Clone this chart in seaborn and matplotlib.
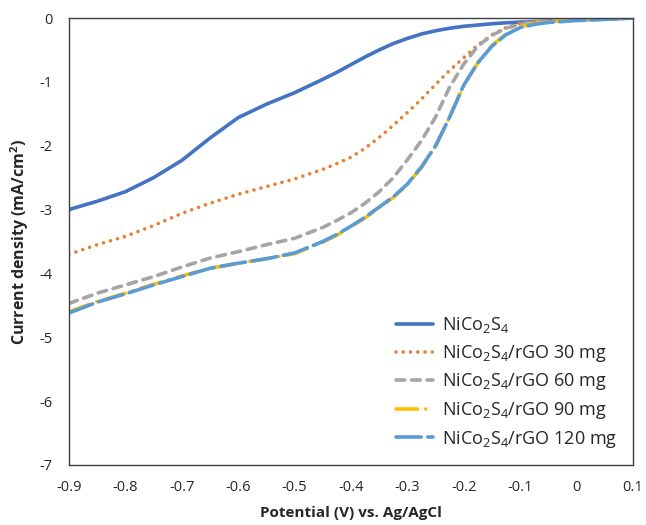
import numpy as np
import pandas as pd
import matplotlib
matplotlib.use("Agg")
import matplotlib.pyplot as plt
import seaborn as sns

potential = [-0.9, -0.85, -0.8, -0.75, -0.7, -0.65, -0.6, -0.55, -0.5,
             -0.45, -0.425, -0.4, -0.375, -0.35, -0.325, -0.3, -0.275, -0.25, -0.225,
             -0.2, -0.175, -0.15, -0.125, -0.1, -0.075, -0.05, 0.0, 0.05, 0.1]

nico2s4 = [-3.00, -2.87, -2.72, -2.50, -2.23, -1.88, -1.56, -1.35, -1.17,
           -0.96, -0.85, -0.73, -0.61, -0.50, -0.40, -0.32, -0.25, -0.20, -0.16,
           -0.13, -0.11, -0.09, -0.075, -0.065, -0.055, -0.045, -0.03, -0.02, 0.0]
rgo30 = [-3.70, -3.55, -3.42, -3.25, -3.06, -2.90, -2.76, -2.64, -2.52,
         -2.37, -2.28, -2.18, -2.04, -1.87, -1.68, -1.48, -1.27, -1.04, -0.82,
         -0.62, -0.42, -0.26, -0.15, -0.08, -0.05, -0.03, -0.02, -0.01, 0.0]
rgo60 = [-4.47, -4.31, -4.18, -4.05, -3.90, -3.76, -3.66, -3.55, -3.45,
         -3.28, -3.17, -3.05, -2.90, -2.72, -2.50, -2.22, -1.92, -1.55, -1.08,
         -0.72, -0.44, -0.27, -0.16, -0.10, -0.06, -0.04, -0.02, -0.01, 0.0]
rgo90 = [-4.60, -4.44, -4.31, -4.17, -4.04, -3.92, -3.84, -3.77, -3.69,
         -3.51, -3.40, -3.27, -3.13, -2.97, -2.81, -2.61, -2.34, -2.01, -1.55,
         -1.05, -0.70, -0.43, -0.25, -0.14, -0.09, -0.06, -0.03, -0.01, 0.0]
rgo120 = [-4.62, -4.45, -4.32, -4.18, -4.05, -3.92, -3.84, -3.77, -3.68,
          -3.50, -3.39, -3.26, -3.12, -2.96, -2.80, -2.60, -2.33, -2.00, -1.55,
          -1.05, -0.70, -0.44, -0.26, -0.15, -0.10, -0.07, -0.04, -0.02, 0.0]

labels = ["NiCo$_2$S$_4$", "NiCo$_2$S$_4$/rGO 30 mg", "NiCo$_2$S$_4$/rGO 60 mg",
          "NiCo$_2$S$_4$/rGO 90 mg", "NiCo$_2$S$_4$/rGO 120 mg"]
series = [nico2s4, rgo30, rgo60, rgo90, rgo120]
colors = ["#4472C4", "#ED7D31", "#A5A5A5", "#FFC000", "#5B9BD5"]
dashes = [None, (0, (0.01, 2.0)), (0, (2.4, 1.9)), (0, (6, 2.2, 0.01, 2.2)), (0, (7, 1.8))]

x_ticks = [-0.9, -0.8, -0.7, -0.6, -0.5, -0.4, -0.3, -0.2, -0.1, 0.0, 0.1]
x_tick_labels = ["-0.9", "-0.8", "-0.7", "-0.6", "-0.5", "-0.4", "-0.3", "-0.2", "-0.1", "0", "0.1"]
y_ticks = [0, -1, -2, -3, -4, -5, -6, -7]
y_tick_labels = ["0", "-1", "-2", "-3", "-4", "-5", "-6", "-7"]

sns.set_theme(style="white")
plt.rcParams["font.family"] = ["Open Sans", "DejaVu Sans"]
plt.rcParams["mathtext.default"] = "regular"

fig = plt.figure(figsize=(6.46, 5.25), dpi=100)
ax = fig.add_axes([69 / 646, 1 - 465 / 525, 564 / 646, 447 / 525])

for lab, vals, col, ds in zip(labels, series, colors, dashes):
    df = pd.DataFrame({"Potential": potential, "Current": vals})
    sns.lineplot(data=df, x="Potential", y="Current", ax=ax, color=col, linewidth=2.6,
                 label=lab, sort=False)
    line = ax.get_lines()[-1]
    line.set_solid_joinstyle("round")
    line.set_dash_joinstyle("round")
    if ds is not None:
        line.set_linestyle(ds)
        line.set_dash_capstyle("round")
    else:
        line.set_solid_capstyle("round")

ax.set_xlim(-0.9, 0.1)
ax.set_ylim(-7, 0)
ax.set_xticks(x_ticks)
ax.set_xticklabels(x_tick_labels)
ax.set_yticks(y_ticks)
ax.set_yticklabels(y_tick_labels)
ax.tick_params(length=0, labelsize=10.5, colors="#262626")
ax.tick_params(axis="x", pad=11)
ax.tick_params(axis="y", pad=12)
for s in ax.spines.values():
    s.set_color("#404040")
    s.set_linewidth(1.0)

ax.set_xlabel("Potential (V) vs. Ag/AgCl", fontsize=11, fontweight="bold", labelpad=8, color="#262626")
ax.set_ylabel("Current density (mA/cm$^2$)", fontsize=11.5, fontweight="bold", labelpad=6, color="#262626")

leg = ax.legend(loc="lower right", bbox_to_anchor=(1.0, 0.0), frameon=False, fontsize=13,
                handlelength=2.0, handletextpad=0.55, labelspacing=0.42, borderpad=0.35)
for t in leg.get_texts():
    t.set_color("#262626")

fig.savefig("out.png", dpi=100)
